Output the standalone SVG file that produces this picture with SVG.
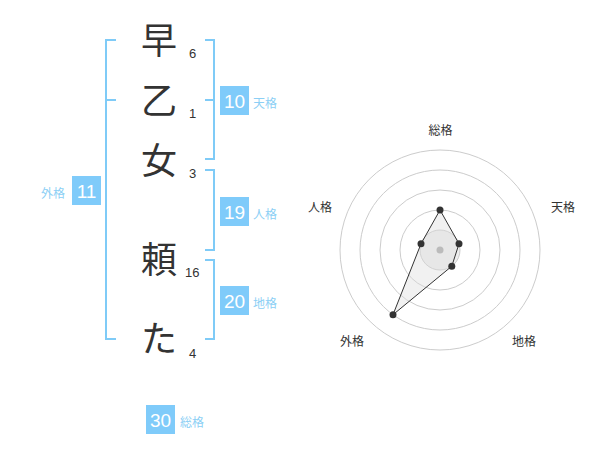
<svg xmlns="http://www.w3.org/2000/svg" width="600" height="470" viewBox="0 0 600 470">
<style>
.ch{font-family:"Noto Sans CJK JP","Noto Sans CJK SC",sans-serif;font-size:36px;fill:#333;text-anchor:middle}
.st{font-family:"Liberation Sans",Arial,sans-serif;font-size:13px;fill:#333}
.br{fill:none;stroke:#7fcbf7;stroke-width:2}
.box{fill:#7fcbfa}
.num{font-family:"Liberation Sans",Arial,sans-serif;font-size:19px;fill:#fff;text-anchor:middle}
.lb{font-family:"Noto Sans CJK JP",sans-serif;font-size:12px;fill:#8ccff5}
.ring{fill:none;stroke:#ccc;stroke-width:1}
.rl{font-family:"Noto Sans CJK JP",sans-serif;font-size:12px;fill:#333;text-anchor:middle}
.pt{fill:#333}
</style>
<rect width="600" height="470" fill="#fff"/>
<g id="chars">
<g id="c1"><text class="ch" x="159" y="54">早</text><text class="st" x="189" y="58">6</text></g>
<g id="c2"><text class="ch" x="159" y="114">乙</text><text class="st" x="189" y="118">1</text></g>
<g id="c3"><text class="ch" x="159" y="174">女</text><text class="st" x="189" y="178">3</text></g>
<g id="c4"><text class="ch" x="159" y="273">頼</text><text class="st" x="185" y="277">16</text></g>
<g id="c5"><text class="ch" x="159" y="352">た</text><text class="st" x="189" y="358">4</text></g>
</g>
<g id="connectors">
<path class="br" d="M116,40 H106 V339 H116 M106,100 H116"/>
<path class="br" d="M205,40 H214 V159 H205 M205,100 H214"/>
<path class="br" d="M205,170 H214 V250 H205"/>
<path class="br" d="M205,260 H214 V339 H205"/>
</g>
<g id="tenkaku"><rect class="box" x="220" y="86" width="29" height="29"/><text class="num" x="234.5" y="107.5">10</text><text class="lb" x="253" y="108">天格</text></g>
<g id="gaikaku"><rect class="box" x="72" y="176" width="29" height="29"/><text class="num" x="86.5" y="197.5">11</text><text class="lb" x="41" y="198">外格</text></g>
<g id="jinkaku"><rect class="box" x="220" y="197" width="29" height="29"/><text class="num" x="234.5" y="218.5">19</text><text class="lb" x="253" y="219">人格</text></g>
<g id="chikaku"><rect class="box" x="220" y="286" width="29" height="29"/><text class="num" x="234.5" y="307.5">20</text><text class="lb" x="253" y="308">地格</text></g>
<g id="soukaku"><rect class="box" x="146" y="405" width="29" height="29"/><text class="num" x="160.5" y="426.5">30</text><text class="lb" x="180" y="427">総格</text></g>
<g id="radar">
<circle cx="440" cy="250" r="20" fill="#eee" stroke="#ccc"/>
<circle class="ring" cx="440" cy="250" r="40"/>
<circle class="ring" cx="440" cy="250" r="60"/>
<circle class="ring" cx="440" cy="250" r="80"/>
<circle class="ring" cx="440" cy="250" r="100"/>
<polygon points="440,210 459,243.8 451.8,266.2 393,314.7 421,243.8" fill="#ddd" fill-opacity="0.4" stroke="#333" stroke-width="1"/>
<circle cx="440" cy="250" r="3.5" fill="#bbb"/>
<circle class="pt" cx="440" cy="210" r="3.5"/>
<circle class="pt" cx="459" cy="243.8" r="3.5"/>
<circle class="pt" cx="451.8" cy="266.2" r="3.5"/>
<circle class="pt" cx="393" cy="314.7" r="3.5"/>
<circle class="pt" cx="421" cy="243.8" r="3.5"/>
<text class="rl" x="440.5" y="135">総格</text>
<text class="rl" x="563" y="212">天格</text>
<text class="rl" x="320" y="212">人格</text>
<text class="rl" x="352" y="346">外格</text>
<text class="rl" x="524" y="346">地格</text>
</g>
</svg>
